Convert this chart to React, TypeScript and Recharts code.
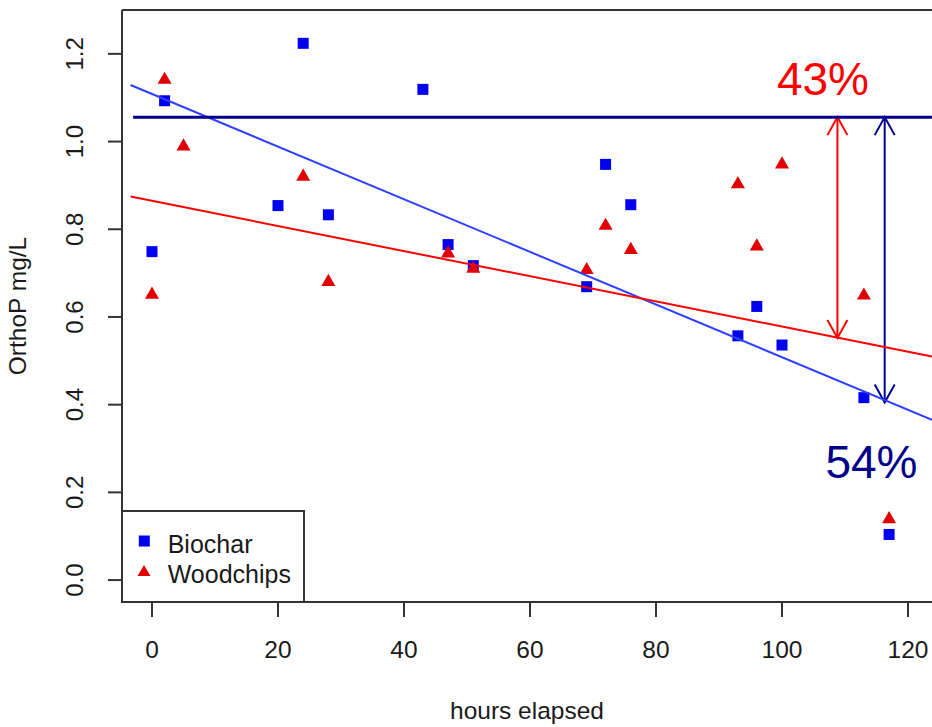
import React from 'react';
import {
  ScatterChart,
  Scatter,
  XAxis,
  YAxis,
  Legend,
  ReferenceLine,
  ReferenceDot,
} from 'recharts';

// measured points, hours elapsed vs OrthoP (mg/L)
const biocharHours = [0, 2, 20, 24, 28, 43, 47, 51, 69, 72, 76, 93, 96, 100, 113, 117];
const biocharOrthoP = [0.749, 1.093, 0.854, 1.224, 0.833, 1.119, 0.765, 0.717, 0.669, 0.948, 0.856, 0.557, 0.624, 0.536, 0.416, 0.104];

const woodHours = [0, 2, 5, 24, 28, 47, 51, 69, 72, 76, 93, 96, 100, 113, 117];
const woodOrthoP = [0.651, 1.141, 0.989, 0.92, 0.68, 0.745, 0.71, 0.707, 0.808, 0.753, 0.903, 0.761, 0.948, 0.649, 0.139];

// fitted trend lines (end points)
const fitHours = [-3.4, 123.8];
const biocharFitValues = [1.129, 0.3655];
const woodFitValues = [0.8746, 0.51];

// starting level line
const startHours = [-3.0, 123.8];
const startLevel = 1.0557;

// reduction arrows
const woodArrowHour = 108.8;
const woodArrowEnd = 0.552;
const biocharArrowHour = 116.3;
const biocharArrowEnd = 0.405;

const xTicks = [0, 20, 40, 60, 80, 100, 120];
const yTicks = [0, 0.2, 0.4, 0.6, 0.8, 1.0, 1.2];
const seriesNames = ['Biochar', 'Woodchips'];

const X_DOMAIN: [number, number] = [-4.76, 123.81];
const Y_DOMAIN: [number, number] = [-0.05, 1.3];

const BLUE = '#0000ee';
const RED = '#e00000';
const NAVY = '#00008b';
const INK = '#1a1a1a';
const FONT = '"Liberation Sans", Arial, sans-serif';

const zip = (xs: number[], ys: number[]) => xs.map((x, i) => ({ hours: x, orthoP: ys[i] }));

const biocharData = zip(biocharHours, biocharOrthoP);
const woodData = zip(woodHours, woodOrthoP);
const biocharFit = zip(fitHours, biocharFitValues);
const woodFit = zip(fitHours, woodFitValues);
const startLine = zip(startHours, startHours.map(() => startLevel));

const Square = (props: any) => {
  const { cx, cy } = props;
  return <rect x={cx - 5.5} y={cy - 5.5} width={11} height={11} fill={BLUE} />;
};

const Triangle = (props: any) => {
  const { cx, cy } = props;
  const s = 14;
  const h = (s * Math.sqrt(3)) / 2;
  const pts = `${cx},${cy - (2 * h) / 3} ${cx + s / 2},${cy + h / 3} ${cx - s / 2},${cy + h / 3}`;
  return <polygon points={pts} fill={RED} />;
};

const NoDot = () => <g />;

const YTick = (props: any) => {
  const { x, y, payload } = props;
  return (
    <text
      x={x}
      y={y}
      transform={`rotate(-90, ${x}, ${y})`}
      textAnchor="middle"
      fontSize={24}
      fill={INK}
    >
      {Number(payload.value).toFixed(1)}
    </text>
  );
};

const arrowShape = (color: string) => (props: any) => {
  const { x1, y1, x2, y2 } = props;
  const top = Math.min(y1, y2);
  const bottom = Math.max(y1, y2);
  const x = x1;
  const w = 10;
  const h = 18;
  return (
    <g>
      <line x1={x} y1={top} x2={x} y2={bottom} stroke={color} strokeWidth={2} />
      <polyline
        points={`${x - w},${top + h} ${x},${top} ${x + w},${top + h}`}
        fill="none"
        stroke={color}
        strokeWidth={2}
      />
      <polyline
        points={`${x - w},${bottom - h} ${x},${bottom} ${x + w},${bottom - h}`}
        fill="none"
        stroke={color}
        strokeWidth={2}
      />
    </g>
  );
};

const percentText = (text: string, color: string) => (props: any) => (
  <text x={props.cx} y={props.cy} textAnchor="middle" fontSize={46} fill={color}>
    {text}
  </text>
);

const renderLegend = () => (
  <div
    style={{
      width: 184,
      height: 93,
      boxSizing: 'border-box',
      border: '2px solid #333',
      background: '#fff',
    }}
  >
    <svg width={180} height={89} style={{ display: 'block' }}>
      <rect x={21.3 - 5.5} y={29 - 5.5} width={11} height={11} fill={BLUE} />
      <text x={44.7} y={40.7} fontSize={25} fill={INK}>
        {seriesNames[0]}
      </text>
      <polygon points="21,53 27.5,64 14.5,64" fill={RED} />
      <text x={44.7} y={70.7} fontSize={25} fill={INK}>
        {seriesNames[1]}
      </text>
    </svg>
  </div>
);

const App: React.FC = () => {
  return (
    <div style={{ position: 'absolute', left: 0, top: 0, fontFamily: FONT, background: '#fff' }}>
      <ScatterChart width={932} height={727} margin={{ top: 10, right: 0, bottom: 0, left: 0 }}>
        <XAxis
          type="number"
          dataKey="hours"
          domain={X_DOMAIN}
          ticks={xTicks}
          allowDataOverflow
          height={125}
          tickSize={15}
          tickMargin={24}
          axisLine={{ stroke: '#333', strokeWidth: 2 }}
          tickLine={{ stroke: '#333', strokeWidth: 2 }}
          tick={{ fontSize: 24.5, fill: INK }}
          label={{ value: 'hours elapsed', position: 'insideBottom', offset: 8, fontSize: 24.5, fill: INK }}
        />
        <YAxis
          type="number"
          dataKey="orthoP"
          domain={Y_DOMAIN}
          ticks={yTicks}
          allowDataOverflow
          width={122}
          tickSize={14}
          tickMargin={25}
          axisLine={{ stroke: '#333', strokeWidth: 2 }}
          tickLine={{ stroke: '#333', strokeWidth: 2 }}
          tick={<YTick />}
          label={{
            content: (p: any) => {
              const vb = p.viewBox || { y: 10, height: 592 };
              const cy = vb.y + vb.height / 2;
              return (
                <text x={26} y={cy} transform={`rotate(-90, 26, ${cy})`} textAnchor="middle" fontSize={24.5} fill={INK}>
                  OrthoP mg/L
                </text>
              );
            },
          }}
        />
        <ReferenceLine y={Y_DOMAIN[1]} stroke="#333" strokeWidth={2} ifOverflow="visible" />

        <Scatter name={seriesNames[0]} data={biocharData} shape={<Square />} isAnimationActive={false} />
        <Scatter name={seriesNames[1]} data={woodData} shape={<Triangle />} isAnimationActive={false} />

        <Scatter
          data={biocharFit}
          line={{ stroke: '#3040ff', strokeWidth: 2 }}
          shape={<NoDot />}
          legendType="none"
          isAnimationActive={false}
        />
        <Scatter
          data={woodFit}
          line={{ stroke: '#ff0000', strokeWidth: 2 }}
          shape={<NoDot />}
          legendType="none"
          isAnimationActive={false}
        />
        <Scatter
          data={startLine}
          line={{ stroke: NAVY, strokeWidth: 3 }}
          shape={<NoDot />}
          legendType="none"
          isAnimationActive={false}
        />

        <ReferenceLine
          segment={[
            { x: woodArrowHour, y: startLevel },
            { x: woodArrowHour, y: woodArrowEnd },
          ]}
          shape={arrowShape('#ff0000')}
        />
        <ReferenceLine
          segment={[
            { x: biocharArrowHour, y: startLevel },
            { x: biocharArrowHour, y: biocharArrowEnd },
          ]}
          shape={arrowShape(NAVY)}
        />

        <ReferenceDot x={106.5} y={1.1065} r={0} shape={percentText('43%', '#ff0000')} />
        <ReferenceDot x={114.2} y={0.2326} r={0} shape={percentText('54%', NAVY)} />

        <Legend
          content={renderLegend}
          layout="horizontal"
          align="center"
          verticalAlign="middle"
          wrapperStyle={{ left: 121, top: 510, width: 184, height: 93 }}
        />
      </ScatterChart>
    </div>
  );
};

export default App;
